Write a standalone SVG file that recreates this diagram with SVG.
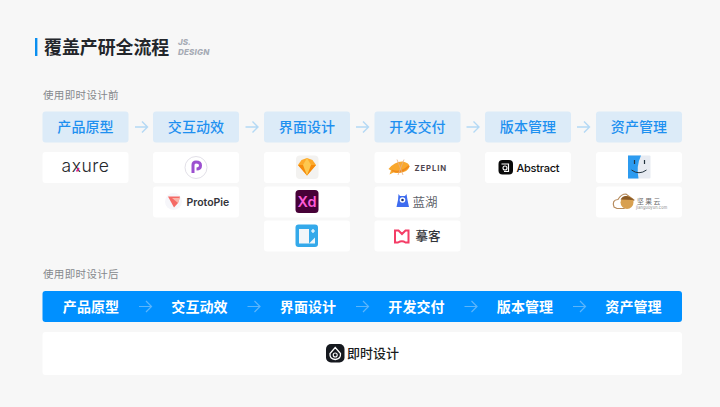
<svg xmlns="http://www.w3.org/2000/svg" width="720" height="407" viewBox="0 0 720 407">
<style>
text{font-family:"Noto Sans CJK SC","Noto Sans",sans-serif}
.lat{font-family:"Inter","Liberation Sans",sans-serif}
.hd{fill:#dcebf8}
.card{fill:#fff}
.ht{font-size:14px;font-weight:500;fill:#1e90f0;text-anchor:middle;letter-spacing:.1px}
.bt{font-size:14px;font-weight:700;fill:#fff;text-anchor:middle;letter-spacing:.1px}
.sub{font-size:10.500px;fill:#85888c;letter-spacing:.35px}
.a1{fill:none;stroke:#b4d9f5;stroke-width:1.400}
.a2{fill:none;stroke:#5cb5fb;stroke-width:1.200}
</style>
<defs>
<path id="ar" d="M-6 0H6M1 -5.500L6.500 0L1 5.500"/>
</defs>
<rect width="720" height="407" fill="#f7f7f7"/>
<g id="title">
<rect x="35" y="38" width="2.400" height="18" fill="#0a8ff0"/>
<text x="44" y="53.500" font-size="17.900" font-weight="700" fill="#23262b">覆盖产研全流程</text>
<text class="lat" x="178" y="45" font-size="8" font-weight="800" font-style="italic" fill="#a6abb5">JS.</text>
<text class="lat" x="178" y="55" font-size="8" font-weight="800" font-style="italic" fill="#a6abb5" letter-spacing=".2">DESIGN</text>
</g>
<text id="label-before" class="sub" x="43" y="98.500">使用即时设计前</text>
<text id="label-after" class="sub" x="43" y="278">使用即时设计后</text>

<g id="stage-1"><rect class="hd" x="42.500" y="111.500" width="86" height="31" rx="3"/><text class="ht" x="85.500" y="132">产品原型</text></g>
<g id="stage-2"><rect class="hd" x="153" y="111.500" width="86" height="31" rx="3"/><text class="ht" x="196" y="132">交互动效</text></g>
<g id="stage-3"><rect class="hd" x="264" y="111.500" width="86" height="31" rx="3"/><text class="ht" x="307" y="132">界面设计</text></g>
<g id="stage-4"><rect class="hd" x="374.500" y="111.500" width="86" height="31" rx="3"/><text class="ht" x="417.500" y="132">开发交付</text></g>
<g id="stage-5"><rect class="hd" x="485" y="111.500" width="86" height="31" rx="3"/><text class="ht" x="528" y="132">版本管理</text></g>
<g id="stage-6"><rect class="hd" x="596" y="111.500" width="86" height="31" rx="3"/><text class="ht" x="639" y="132">资产管理</text></g>

<g id="tool-axure"><rect class="card" x="42.500" y="152" width="86" height="31" rx="3"/>
<text class="lat" x="85.500" y="172" font-size="17.500" font-weight="300" fill="#25282c" text-anchor="middle" letter-spacing=".5">axure</text>
<path d="M76.500 171.500L79 168" stroke="#e0208c" stroke-width="1.500"/></g>

<g id="tool-principle"><rect class="card" x="153" y="152" width="86" height="31" rx="3"/>
<circle cx="196" cy="167.500" r="11" fill="#fff" stroke="#e2e0e8" stroke-width="1"/>
<path d="M193 173V165Q193 162 196 162Q200.500 162 200.500 165.500Q200.500 169 196.500 169" fill="none" stroke="#9c4fd0" stroke-width="3"/></g>

<g id="tool-protopie"><rect class="card" x="153" y="186.500" width="86" height="31" rx="3"/>
<circle cx="173.500" cy="201.500" r="8.500" fill="#f6f6fa"/>
<path d="M168 196.500H180L178 203L174 207.500Z" fill="#f56a66"/>
<path d="M172 198H180L178 203Z" fill="#fab3a8"/>
<text class="lat" x="186.500" y="205.500" font-size="10.500" font-weight="600" fill="#33343a">ProtoPie</text></g>

<g id="tool-sketch"><rect class="card" x="264" y="152" width="86" height="31" rx="3"/>
<rect x="296" y="155.500" width="22.500" height="23.500" rx="4" fill="#f3f2f0"/>
<path d="M301.500 160L307 158L312.500 160L316 165L307 175.500L298 165Z" fill="#fda92a"/>
<path d="M298 165H316L307 175.500Z" fill="#f58a0c"/>
<path d="M303 165L307 158L311 165L307 175.500Z" fill="#fdc850"/></g>

<g id="tool-xd"><rect class="card" x="264" y="186.500" width="86" height="31" rx="3"/>
<rect x="295.500" y="190" width="23" height="23" rx="3.500" fill="#470137"/>
<text class="lat" x="307" y="206.500" font-size="14.500" font-weight="600" fill="#ff5bd8" text-anchor="middle">Xd</text></g>

<g id="tool-lanhu-icon"><rect class="card" x="264" y="220.500" width="86" height="31" rx="3"/>
<rect x="295.500" y="224.500" width="22.500" height="22.500" rx="3" fill="#34a9ea"/>
<rect x="299" y="229" width="10" height="14.500" fill="#f2f6f9"/>
<path d="M309 243.500H315V237.500Z" fill="#eef5fa"/>
<path d="M311 231H315M313 229V233" stroke="#fff" stroke-width="1.200"/></g>

<g id="tool-zeplin"><rect class="card" x="374.500" y="152" width="86" height="31" rx="3"/>
<path d="M388.500 169Q395 161 403 161.500Q409.500 163 409.500 166.500Q408 172 399 173Q395 173 393.500 172.500L389.500 174.500L391 170.500Z" fill="#f9a82e"/>
<path d="M392 170.500Q401 174 409 166" fill="none" stroke="#ef8a1c" stroke-width="1.800"/>
<path d="M397 159.500L403 175M404 159.500L398 175" stroke="#e6b08a" stroke-width=".8" fill="none"/>
<text class="lat" x="414.500" y="171" font-size="7.700" font-weight="700" fill="#4f4750" letter-spacing=".9">ZEPLIN</text></g>

<g id="tool-lanhu"><rect class="card" x="374.500" y="186.500" width="86" height="31" rx="3"/>
<path d="M398.500 194L400 196H405L406.500 194L407.500 200L409 207H396.500L398 200Z" fill="#3e6cf0"/>
<circle cx="402.500" cy="200" r="2.800" fill="#fff"/><circle cx="402.500" cy="200" r="1.300" fill="#1c2f70"/>
<text x="412.500" y="206.500" font-size="12.500" fill="#5f646c">蓝湖</text></g>

<g id="tool-moke"><rect class="card" x="374.500" y="220.500" width="86" height="31" rx="3"/>
<path d="M395 230.500H398.500L402 234L405.500 230.500H408.500V242.500H405.500Q402 240 398 242.500H395Z" fill="none" stroke="#f43d66" stroke-width="2"/>
<text x="415.500" y="241" font-size="12.500" font-weight="500" fill="#33353a">摹客</text></g>

<g id="tool-abstract"><rect class="card" x="485" y="152" width="86" height="31" rx="3"/>
<rect x="498.500" y="160" width="14.500" height="14.500" rx="4" fill="#0a0a0a"/>
<path d="M501.500 164H508.500V171.500H504" fill="none" stroke="#fff" stroke-width="1.200"/><circle cx="505" cy="168" r="2" fill="none" stroke="#fff" stroke-width="1.100"/>
<text class="lat" x="516.500" y="171.500" font-size="11" font-weight="500" fill="#111" letter-spacing="-.25">Abstract</text></g>

<g id="tool-finder"><rect class="card" x="596" y="152" width="86" height="31" rx="3"/>
<rect x="628" y="155.500" width="22.500" height="23" rx="1" fill="#e7ebf2"/>
<path d="M628 155.500H641Q636 166 638.500 178.500H628Z" fill="#2c9bf0"/>
<path d="M634.500 160V164M644.500 160V164" stroke="#23333f" stroke-width="1.200"/>
<path d="M631.500 170Q639 175.500 646.500 170" fill="none" stroke="#23333f" stroke-width="1"/></g>

<g id="tool-jianguoyun"><rect class="card" x="596" y="186.500" width="86" height="31" rx="3"/>
<path d="M614 207Q611.500 200 618 199.500Q621 194 626 194L634 200L624 208.500H617Z" fill="#fff" stroke="#b58a5c" stroke-width="1.100"/>
<ellipse cx="627" cy="202.500" rx="6.500" ry="6.500" fill="#d8a050"/>
<path d="M620.500 199.500Q625 192.500 634 200Z" fill="#8a5a25"/>
<text x="637" y="204" font-size="6.800" fill="#6e6e6e" letter-spacing="1.500">坚果云</text>
<text class="lat" x="636" y="208.800" font-size="3.900" fill="#8a8a8a" letter-spacing=".15">jianguoyun.com</text></g>

<g id="after-bar"><rect x="42.500" y="291" width="639.500" height="31" rx="3" fill="#0090ff"/>
<text class="bt" x="91" y="311.500">产品原型</text>
<text class="bt" x="199.500" y="311.500">交互动效</text>
<text class="bt" x="308" y="311.500">界面设计</text>
<text class="bt" x="416.500" y="311.500">开发交付</text>
<text class="bt" x="525" y="311.500">版本管理</text>
<text class="bt" x="633.500" y="311.500">资产管理</text></g>

<g id="after-tool"><rect class="card" x="42.500" y="332" width="639.500" height="43" rx="3"/>
<rect x="326" y="344" width="18.500" height="18.500" rx="5" fill="#16191f"/>
<path d="M335.200 347.500L340.500 353.500Q341 359 335.200 359.500Q329.500 359 330 353.500Z" fill="none" stroke="#fff" stroke-width="1.300"/>
<circle cx="335.200" cy="355" r="2" fill="none" stroke="#fff" stroke-width="1.100"/>
<text x="347" y="358" font-size="13" font-weight="500" fill="#1a1c20">即时设计</text></g>

<g id="connectors">
<use href="#ar" x="141" y="127" class="a1"/>
<use href="#ar" x="251.500" y="127" class="a1"/>
<use href="#ar" x="362" y="127" class="a1"/>
<use href="#ar" x="472.500" y="127" class="a1"/>
<use href="#ar" x="583" y="127" class="a1"/>
<use href="#ar" x="145" y="306.500" class="a2"/>
<use href="#ar" x="253.500" y="306.500" class="a2"/>
<use href="#ar" x="362" y="306.500" class="a2"/>
<use href="#ar" x="470.500" y="306.500" class="a2"/>
<use href="#ar" x="579" y="306.500" class="a2"/>
</g>
</svg>
